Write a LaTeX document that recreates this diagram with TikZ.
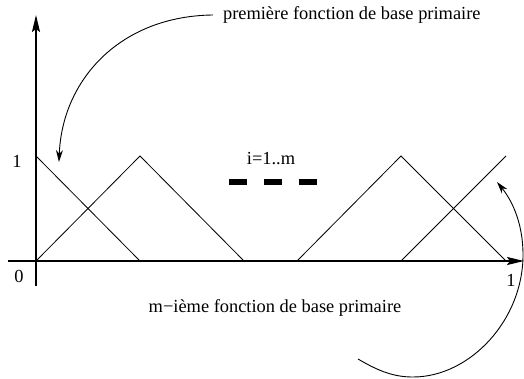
\documentclass[tikz,border=0pt]{standalone}
\usepackage{fontspec}
\setmainfont{Liberation Serif}
\usetikzlibrary{arrows.meta,positioning}

\begin{document}
\begin{tikzpicture}[x=0.5pt,y=-0.5pt,font=\fontsize{9.2}{11}\selectfont,
    axe/.style={line width=1pt,-{Stealth[length=8.5pt,width=4pt,inset=1.5pt]}},
    fonction/.style={line width=0.4pt},
    fleche/.style={line width=0.45pt,-{Stealth[length=6pt,width=3.5pt]}},
    tiret/.style={line width=3pt}]
          \useasboundingbox (0,0) rectangle (524,379);
          % axes
          \coordinate (xg) at (8,261);
          \coordinate (xd) at (524,261);
          \coordinate (yb) at (36,286);
          \coordinate (yh) at (36,15);
          \draw[axe] (xg) -- (xd);
          \draw[axe] (yb) -- (yh);
          % noeuds du maillage
          \foreach \n/\x in {0/36,1/140,2/244,3/297,4/401,5/506} {
            \coordinate (p\n) at (\x,261);
            \coordinate (s\n) at (\x,156);
          }
          % fonctions de base
          \draw[fonction] (s0) -- (p1);
          \draw[fonction] (p0) -- (s1) -- (p2);
          \draw[fonction] (p3) -- (s4) -- (p5);
          \draw[fonction] (p4) -- (s5);
          % graduations
          \node (un) at (17,161) {1};
          \node (zero) at (19,276) {0};
          \node (unx) at (511,280) {1};
          \node (indice) at (271,159) {i=1..m};
          \foreach \x in {238,273,308}
            \draw[tiret] (\x-9,182) -- (\x+9,182);
          % legendes
          \node[anchor=west] (premiere) at (216,15) {première fonction de base primaire};
          \node (mieme) at (275,308) {m−ième fonction de base primaire};
          \coordinate (phi1) at (59,162);
          \coordinate (depart) at (358,359);
          \coordinate (phim) at (497,182);
          \draw[fleche] ([xshift=-1.5pt]premiere.west) .. controls (120,16) and (62,80) .. (phi1);
          \draw[fleche] (depart) .. controls (380,372) and (395,377) .. (413,377)
            .. controls (470,377) and (523,320) .. (523,255)
            .. controls (523,220) and (510,198) .. (phim);
        \end{tikzpicture}
\end{document}
